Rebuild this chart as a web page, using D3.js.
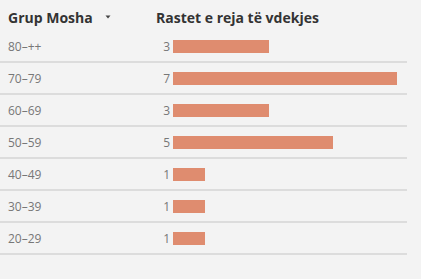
<!DOCTYPE html>
<html lang="sq">
<head>
<meta charset="UTF-8">
<script src="https://d3js.org/d3.v7.min.js"></script>
<style>
  body { margin: 0; background: #f3f3f3; }
  svg { display: block; font-family: "Open Sans", sans-serif; }
</style>
</head>
<body>
<svg width="421" height="279"></svg>
<script>
// data
var ageGroups = ["80\u2013++", "70\u201379", "60\u201369", "50\u201359", "40\u201349", "30\u201339", "20\u201329"];
var deaths = [3, 7, 3, 5, 1, 1, 1];
var headers = ["Grup Mosha", "Rastet e reja t\u00eb vdekjes"];

var svg = d3.select("svg");
var W = 421, H = 279;

svg.append("rect").attr("width", W).attr("height", H).attr("fill", "#f3f3f3");

var y = d3.scaleBand().domain(ageGroups).range([30, 254]).padding(0);
var x = d3.scaleLinear().domain([0, 7]).range([173, 397]);

// headers
svg.append("text").attr("x", 8).attr("y", 23)
  .attr("font-size", 14).attr("font-weight", "bold").attr("fill", "#333")
  .text(headers[0]);
// sort arrow
svg.append("path").attr("d", "M105.5,15.5 L110.5,15.5 L108,18.5 Z").attr("fill", "#444");
svg.append("text").attr("x", 156).attr("y", 23)
  .attr("font-size", 14).attr("font-weight", "bold").attr("fill", "#333")
  .text(headers[1]);

var rows = svg.selectAll("g.row").data(ageGroups).enter()
  .append("g").attr("class", "row");

// separators
rows.append("line")
  .attr("x1", 0).attr("x2", 407)
  .attr("y1", function (d) { return y(d) + y.bandwidth(); })
  .attr("y2", function (d) { return y(d) + y.bandwidth(); })
  .attr("stroke", "#dcdcdc").attr("stroke-width", 2);

// labels
rows.append("text")
  .attr("x", 8)
  .attr("y", function (d) { return y(d) + y.bandwidth() / 2 + 4.5; })
  .attr("font-size", 12).attr("fill", "#777")
  .text(function (d) { return d; });

// bars
rows.append("rect")
  .attr("x", x(0))
  .attr("y", function (d) { return y(d) + 10; })
  .attr("height", 13)
  .attr("width", function (d, i) { return x(deaths[i]) - x(0); })
  .attr("fill", "#df8c6f");

// values
rows.append("text")
  .attr("x", 170).attr("text-anchor", "end")
  .attr("y", function (d) { return y(d) + y.bandwidth() / 2 + 4.5; })
  .attr("font-size", 12).attr("fill", "#777")
  .text(function (d, i) { return deaths[i]; });
</script>
</body>
</html>
